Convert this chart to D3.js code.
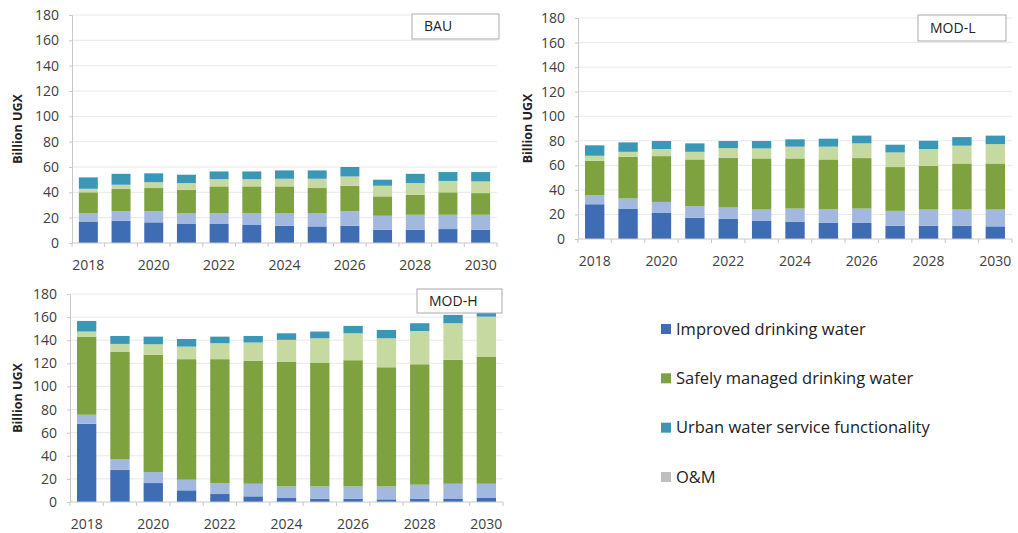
<!DOCTYPE html>
<html>
<head>
<meta charset="utf-8">
<script src="https://cdn.jsdelivr.net/npm/d3@7"></script>
<style>
  body { margin: 0; background: #fff; }
  svg text { font-family: "Open Sans", "Liberation Sans", sans-serif; }
</style>
</head>
<body>
<div id="chart"></div>
<script>
const years = ['2018','2019','2020','2021','2022','2023','2024','2025','2026','2027','2028','2029','2030'];
const yTicks = [0, 20, 40, 60, 80, 100, 120, 140, 160, 180];
const xTickLabels = ['2018','2020','2022','2024','2026','2028','2030'];

// stack order, bottom to top
const seriesKeys = ['improved', 'improvedOM', 'safely', 'safelyOM', 'urban'];

// BAU
const bauImproved   = [17, 17.6, 16.3, 15, 15, 14.2, 13.7, 13.1, 13.7, 10.5, 10.5, 11, 10.5];
const bauImprovedOM = [6.6, 7.4, 8.7, 8.6, 8.6, 9.4, 9.9, 10.5, 11.3, 11, 11.8, 11.3, 11.8];
const bauSafely     = [16.4, 17.6, 18.4, 18.4, 21.1, 21.1, 21.1, 19.8, 20.2, 15.3, 15.7, 17.7, 17.1];
const bauSafelyOM   = [2.8, 3.4, 4.6, 5.3, 5.7, 5.7, 6, 7.3, 7.3, 8.4, 9.3, 9, 9.2];
const bauUrban      = [9, 8.6, 7, 6.6, 6.1, 6.1, 6.6, 6.6, 7.5, 4.8, 7.3, 7, 7.4];

// MOD-L
const modlImproved   = [28.3, 24.8, 21.2, 17.4, 16.6, 14.7, 13.9, 13.1, 13.1, 10.9, 10.9, 10.9, 10.3];
const modlImprovedOM = [7.4, 8.2, 9, 9.3, 9, 9.3, 10.9, 11.1, 11.7, 12, 13.1, 13.1, 13.7];
const modlSafely     = [28, 34, 37.3, 38.1, 40.6, 41.6, 40.8, 40.6, 41.1, 35.7, 35.6, 37.5, 37.5];
const modlSafelyOM   = [4.1, 4, 5.8, 6.2, 7.8, 8.2, 9.6, 10.4, 12, 11.9, 13.7, 14.5, 15.8];
const modlUrban      = [8.5, 7.7, 6.5, 6.9, 5.8, 6, 6, 6.5, 6.3, 6.3, 6.7, 7, 6.9];

// MOD-H
const modhImproved   = [67.7, 28, 16.4, 10.1, 6.9, 4.9, 3.5, 2.9, 2.9, 2.3, 2.9, 2.6, 3.5];
const modhImprovedOM = [7.8, 9.2, 9.5, 9.2, 9.5, 10.9, 10, 10.6, 10.6, 11.2, 12.1, 13.2, 12.3];
const modhSafely     = [67.6, 93, 101.4, 104.3, 107.2, 106.3, 108, 107.2, 109.2, 103.1, 104.2, 107.2, 110.1];
const modhSafelyOM   = [4.4, 6.6, 9.2, 10.9, 13.8, 15.9, 18.8, 21, 23.3, 25.1, 28.8, 31.7, 34.5];
const modhUrban      = [9.2, 6.9, 6.6, 6.6, 5.7, 5.7, 5.7, 5.8, 6.4, 7.2, 6.7, 7.2, 7];

const legendLabels = ['Improved drinking water', 'Safely managed drinking water', 'Urban water service functionality', 'O&M'];

const colors = {
  improved: '#3f6db3',
  improvedOM: '#a2b8df',
  safely: '#7ea23f',
  safelyOM: '#c6d9a1',
  urban: '#3a98b6'
};
const legendColors = ['#3f6db3', '#7ea23f', '#3a98b6', '#bfbfbf'];

function rows(arrs) {
  return years.map((y, i) => {
    const r = { year: y };
    seriesKeys.forEach((k, j) => { r[k] = arrs[j][i]; });
    return r;
  });
}

const panels = [
  { title: 'BAU', data: rows([bauImproved, bauImprovedOM, bauSafely, bauSafelyOM, bauUrban]),
    x0: 72, x1: 497, y0: 243, y1: 15, labelX: 18, box: [412, 14, 87, 25] },
  { title: 'MOD-L', data: rows([modlImproved, modlImprovedOM, modlSafely, modlSafelyOM, modlUrban]),
    x0: 578, x1: 1012, y0: 239, y1: 18, labelX: 528, box: [918, 15, 88, 26] },
  { title: 'MOD-H', data: rows([modhImproved, modhImprovedOM, modhSafely, modhSafelyOM, modhUrban]),
    x0: 70, x1: 503, y0: 502, y1: 294, labelX: 18, box: [417, 289, 85, 24] }
];

const svg = d3.select('#chart').append('svg')
  .attr('width', 1018)
  .attr('height', 533);

const stack = d3.stack().keys(seriesKeys);

panels.forEach(p => {
  const g = svg.append('g');
  const x = d3.scaleBand().domain(years).range([p.x0, p.x1]).paddingInner(0.42).paddingOuter(0.21);
  const y = d3.scaleLinear().domain([0, 180]).range([p.y0, p.y1]);

  // gridlines
  g.append('g')
    .selectAll('line')
    .data(yTicks.slice(1))
    .enter().append('line')
    .attr('x1', p.x0).attr('x2', p.x1)
    .attr('y1', d => y(d)).attr('y2', d => y(d))
    .attr('stroke', '#e8e8e8')
    .attr('stroke-width', 1);

  // y axis
  const yAxis = g.append('g')
    .attr('transform', `translate(${p.x0},0)`)
    .call(d3.axisLeft(y).tickValues(yTicks).tickSize(3).tickPadding(10));
  yAxis.selectAll('text').style('font-size', '14px').attr('fill', '#404040');
  yAxis.selectAll('line').attr('stroke', '#c8c8c8');
  yAxis.select('.domain').attr('stroke', '#c8c8c8');

  // bars
  g.append('g')
    .selectAll('g')
    .data(stack(p.data))
    .enter().append('g')
    .attr('fill', d => colors[d.key])
    .selectAll('rect')
    .data(d => d)
    .enter().append('rect')
    .attr('x', d => x(d.data.year))
    .attr('width', x.bandwidth())
    .attr('y', d => y(d[1]))
    .attr('height', d => y(d[0]) - y(d[1]));

  // x axis: ticks at band edges
  const edges = d3.range(years.length + 1).map(i => p.x0 + i * (p.x1 - p.x0) / years.length);
  g.append('line')
    .attr('x1', p.x0).attr('x2', p.x1)
    .attr('y1', p.y0).attr('y2', p.y0)
    .attr('stroke', '#c8c8c8');
  g.append('g')
    .selectAll('line')
    .data(edges)
    .enter().append('line')
    .attr('x1', d => d).attr('x2', d => d)
    .attr('y1', p.y0).attr('y2', p.y0 + 4)
    .attr('stroke', '#c8c8c8');
  g.append('g')
    .selectAll('text')
    .data(xTickLabels)
    .enter().append('text')
    .attr('x', d => x(d) + x.bandwidth() / 2)
    .attr('y', p.y0 + 27)
    .attr('text-anchor', 'middle')
    .attr('fill', '#404040')
    .style('font-size', '14px')
    .text(d => d);

  // y label
  g.append('text')
    .attr('transform', `translate(${p.labelX},${(p.y0 + p.y1) / 2}) rotate(-90)`)
    .attr('text-anchor', 'middle')
    .attr('dy', '0.35em')
    .style('font-size', '12.5px')
    .style('font-weight', 'bold')
    .attr('fill', '#222')
    .text('Billion UGX');

  // title box
  g.append('rect')
    .attr('x', p.box[0]).attr('y', p.box[1])
    .attr('width', p.box[2]).attr('height', p.box[3])
    .attr('fill', '#fff')
    .attr('stroke', '#aaa');
  g.append('text')
    .attr('x', p.box[0] + 12)
    .attr('y', p.box[1] + p.box[3] / 2)
    .attr('dy', '0.35em')
    .style('font-size', '14px')
    .attr('fill', '#222')
    .text(p.title);
});

// legend
const legend = svg.append('g');
const legendY = d3.scalePoint().domain(legendLabels).range([329, 477]);
legendLabels.forEach((l, i) => {
  legend.append('rect')
    .attr('x', 661).attr('y', legendY(l) - 5)
    .attr('width', 10).attr('height', 10)
    .attr('fill', legendColors[i]);
  legend.append('text')
    .attr('x', 676).attr('y', legendY(l))
    .attr('dy', '0.35em')
    .style('font-size', '16.5px')
    .attr('fill', '#222')
    .text(l);
});
</script>
</body>
</html>
